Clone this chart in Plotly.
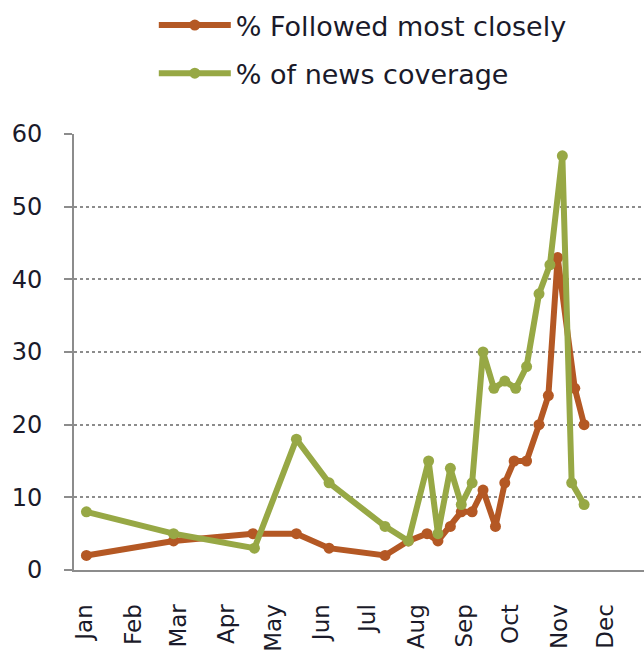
import plotly.graph_objects as go

# Data (2008 weekly news interest)
followed_dates = ["2008-01-02", "2008-02-27", "2008-04-18", "2008-05-16", "2008-06-06",
                  "2008-07-12", "2008-07-27", "2008-08-08", "2008-08-15", "2008-08-23",
                  "2008-08-30", "2008-09-06", "2008-09-13", "2008-09-21", "2008-09-27",
                  "2008-10-03", "2008-10-11", "2008-10-19", "2008-10-25", "2008-10-31",
                  "2008-11-11", "2008-11-17"]
followed_values = [2, 4, 5, 5, 3, 2, 4, 5, 4, 6, 8, 8, 11, 6, 12, 15, 15, 20, 24, 43, 25, 20]

coverage_dates = ["2008-01-02", "2008-02-27", "2008-04-19", "2008-05-16", "2008-06-06",
                  "2008-07-12", "2008-07-27", "2008-08-09", "2008-08-15", "2008-08-23",
                  "2008-08-30", "2008-09-06", "2008-09-13", "2008-09-20", "2008-09-27",
                  "2008-10-04", "2008-10-11", "2008-10-19", "2008-10-26", "2008-11-03",
                  "2008-11-09", "2008-11-17"]
coverage_values = [8, 5, 3, 18, 12, 6, 4, 15, 5, 14, 9, 12, 30, 25, 26, 25, 28, 38, 42, 57, 12, 9]

y_ticks = [0, 10, 20, 30, 40, 50, 60]

ORANGE = "#B45824"
GREEN = "#97A845"

fig = go.Figure()
fig.add_trace(go.Scatter(
    x=followed_dates, y=followed_values, mode="lines+markers",
    name="% Followed most closely", legendgroup="a",
    line=dict(color=ORANGE, width=6),
    marker=dict(color=ORANGE, size=11, symbol="circle"),
))
fig.add_trace(go.Scatter(
    x=coverage_dates, y=coverage_values, mode="lines+markers",
    name="% of news coverage", legendgroup="b",
    line=dict(color=GREEN, width=6),
    marker=dict(color=GREEN, size=11, symbol="circle"),
))

fig.update_layout(
    width=644, height=652,
    margin=dict(l=74, r=0, t=134, b=82),
    paper_bgcolor="white", plot_bgcolor="white",
    font=dict(family="DejaVu Sans", size=24, color="#1a1a2a"),
    showlegend=True,
    legend=dict(
        x=0.14, y=1.305, xanchor="left", yanchor="top",
        font=dict(size=27, color="#1a1a2a"),
        itemwidth=72, tracegroupgap=10,
        bgcolor="rgba(0,0,0,0)",
    ),
    xaxis=dict(
        type="date", automargin=False,
        range=["2007-12-25", "2008-12-25 12:00"],
        dtick="M1", tick0="2008-01-01", tickformat="%b",
        tickangle=-90, ticks="", ticklabelstandoff=23,
        showgrid=False, zeroline=False,
        showline=True, linecolor="#8c8c8c", linewidth=2,
        tickfont=dict(size=23),
    ),
    yaxis=dict(
        automargin=False,
        range=[0, 60], tickvals=y_ticks,
        ticks="outside", ticklen=8, tickcolor="#8c8c8c", tickwidth=2,
        ticklabelstandoff=17,
        showgrid=True, gridcolor="#8c8c8c", griddash="dot", gridwidth=1.5,
        zeroline=False,
        showline=True, linecolor="#8c8c8c", linewidth=2,
        tickfont=dict(size=24),
    ),
)

fig.write_html("out.html")
